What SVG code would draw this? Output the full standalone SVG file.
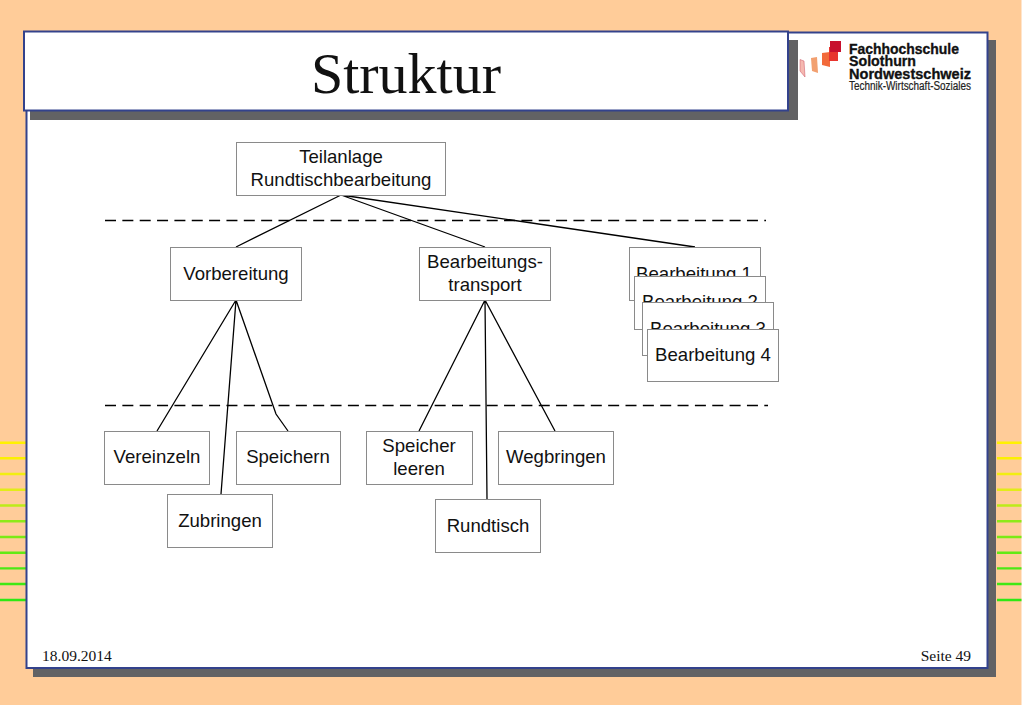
<svg xmlns="http://www.w3.org/2000/svg" width="1023" height="708" viewBox="0 0 1023 708">
<style>
.box{fill:#fff;stroke:#8a8a8a;stroke-width:1}
.t{font-family:"Liberation Sans",Arial,sans-serif;font-size:18.6px;fill:#111;text-anchor:middle}
.c{fill:none;stroke:#000;stroke-width:1.3}
.d{fill:none;stroke:#000;stroke-width:1.3;stroke-dasharray:11 6.35}
.s{fill:#626264}
.p{fill:#fff;stroke:#33428c;stroke-width:2}
.f{font-family:"Liberation Serif","Times New Roman",serif;fill:#111}
.l{font-family:"Liberation Sans",Arial,sans-serif;font-weight:bold;font-size:15px;fill:#111;stroke:#111;stroke-width:.35}
</style>
<rect width="1023" height="708" fill="#fff"/>
<rect width="1021.5" height="705" fill="#ffcc99"/>
<g id="stripes" stroke-width="2.4">
<path d="M0 442.7H27M997 442.7H1021.5" stroke="#fff200"/>
<path d="M0 458.3H27M997 458.3H1021.5" stroke="#fcf000"/>
<path d="M0 474H27M997 474H1021.5" stroke="#f2ee10"/>
<path d="M0 489.8H27M997 489.8H1021.5" stroke="#e2ec18"/>
<path d="M0 505.5H27M997 505.5H1021.5" stroke="#bdec18"/>
<path d="M0 521.2H27M997 521.2H1021.5" stroke="#8eea18"/>
<path d="M0 537H27M997 537H1021.5" stroke="#7aea14"/>
<path d="M0 552.7H27M997 552.7H1021.5" stroke="#62ea14"/>
<path d="M0 568.4H27M997 568.4H1021.5" stroke="#4ce814"/>
<path d="M0 584H27M997 584H1021.5" stroke="#3ee814"/>
<path d="M0 600H27M997 600H1021.5" stroke="#2ee814"/>
</g>
<rect id="page-shadow" class="s" x="33" y="40" width="963" height="637"/>
<rect id="page" class="p" x="26.500" y="32.500" width="961" height="635.500"/>
<rect id="title-shadow" class="s" x="30" y="40" width="768" height="80"/>
<g id="title">
<rect class="p" x="24" y="31.500" width="764" height="79"/>
<text class="f" x="406" y="93" font-size="58" text-anchor="middle" fill="#000">Struktur</text>
</g>
<g id="logo">
<path d="M800 59.500l4 1.500 1 16-5-6z" fill="#f5b8b0" stroke="#c85060" stroke-width=".5"/>
<path d="M811 58l6-1 1 16-6-2z" fill="#f2a070"/>
<path d="M822 53l8-1v15l-8-2z" fill="#f26a3a"/>
<path d="M829 47h9v14h-9z" fill="#e8352e"/>
<path d="M830 41h11v11h-11z" fill="#c8102e"/>
<text class="l" x="849" y="54" textLength="110" lengthAdjust="spacingAndGlyphs">Fachhochschule</text>
<text class="l" x="849" y="66" textLength="67" lengthAdjust="spacingAndGlyphs">Solothurn</text>
<text class="l" x="849" y="79" textLength="122" lengthAdjust="spacingAndGlyphs">Nordwestschweiz</text>
<text x="849" y="90" font-family="'Liberation Sans',Arial,sans-serif" font-size="12" fill="#222" stroke="#222" stroke-width=".2" textLength="122" lengthAdjust="spacingAndGlyphs">Technik-Wirtschaft-Soziales</text>
</g>
<g id="connectors">
<path class="d" d="M105 220.500H766"/>
<path class="d" d="M105 405.500H768"/>
<path class="c" d="M341 195L236 247M341 195L485 247M341 195L695 247"/>
<path class="c" d="M236 300L157 431M236 300L221 494M236 300L276 414L288 431"/>
<path class="c" d="M485 300L419 431M485 300L487 499M485 300L555 431"/>
</g>
<g id="n-teilanlage"><rect class="box" x="236.500" y="142.500" width="209" height="53"/><text class="t" x="341" y="163">Teilanlage</text><text class="t" x="341" y="186">Rundtischbearbeitung</text></g>
<g id="n-vorbereitung"><rect class="box" x="170.500" y="247.500" width="131" height="53"/><text class="t" x="236" y="279.500">Vorbereitung</text></g>
<g id="n-transport"><rect class="box" x="419.500" y="247.500" width="131" height="53"/><text class="t" x="485" y="268">Bearbeitungs-</text><text class="t" x="485" y="291">transport</text></g>
<g id="n-b1"><rect class="box" x="629.500" y="247.500" width="131" height="53"/><text class="t" x="694" y="280">Bearbeitung 1</text></g>
<g id="n-b2"><rect class="box" x="634.500" y="276.500" width="131" height="53"/><text class="t" x="700" y="308">Bearbeitung 2</text></g>
<g id="n-b3"><rect class="box" x="642.500" y="302.500" width="131" height="53"/><text class="t" x="708" y="335">Bearbeitung 3</text></g>
<g id="n-b4"><rect class="box" x="647.500" y="329.500" width="131" height="52"/><text class="t" x="713" y="361">Bearbeitung 4</text></g>
<g id="n-vereinzeln"><rect class="box" x="104.500" y="431.500" width="105" height="53"/><text class="t" x="157" y="463">Vereinzeln</text></g>
<g id="n-speichern"><rect class="box" x="236.500" y="431.500" width="104" height="53"/><text class="t" x="288" y="463">Speichern</text></g>
<g id="n-zubringen"><rect class="box" x="167.500" y="494.500" width="105" height="53"/><text class="t" x="220" y="526.500">Zubringen</text></g>
<g id="n-leeren"><rect class="box" x="366.500" y="431.500" width="106" height="53"/><text class="t" x="419" y="452">Speicher</text><text class="t" x="419" y="475">leeren</text></g>
<g id="n-wegbringen"><rect class="box" x="498.500" y="431.500" width="115" height="53"/><text class="t" x="556" y="463">Wegbringen</text></g>
<g id="n-rundtisch"><rect class="box" x="435.500" y="499.500" width="105" height="53"/><text class="t" x="488" y="532">Rundtisch</text></g>
<text class="f" x="42" y="661" font-size="15.500">18.09.2014</text>
<text class="f" x="971" y="661" font-size="15.500" text-anchor="end">Seite 49</text>
</svg>
